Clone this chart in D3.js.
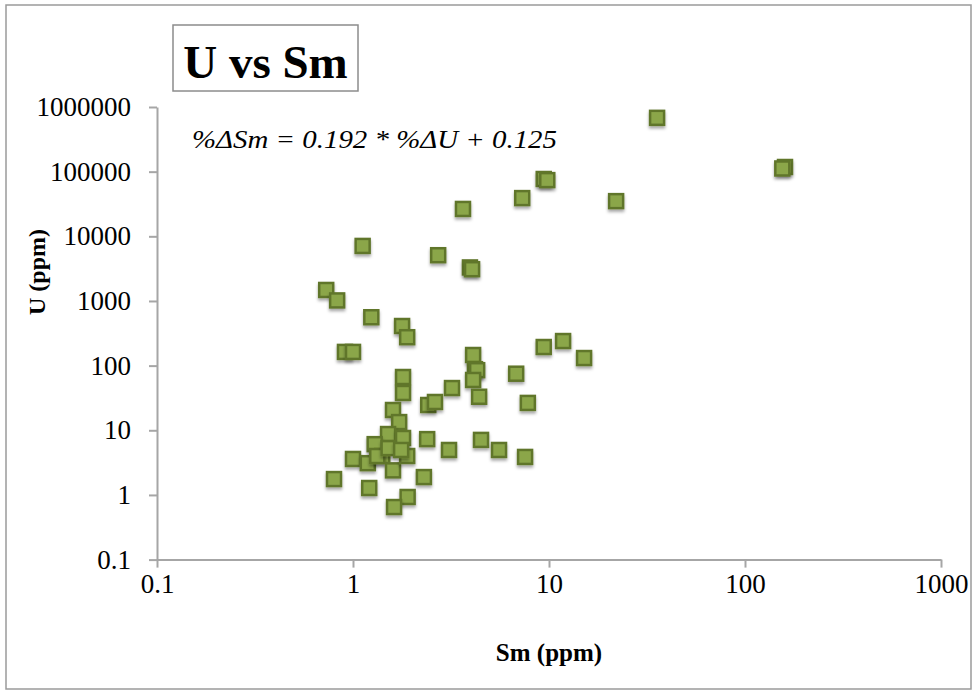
<!DOCTYPE html>
<html>
<head>
<meta charset="utf-8">
<script src="https://cdn.jsdelivr.net/npm/d3@7/dist/d3.min.js"></script>
<style>
  body { margin: 0; background: #fff; }
  svg { display: block; }
</style>
</head>
<body>
<div id="vis"></div>
<script>
// values (Sm ppm, U ppm)
var smValues = [35.6, 160, 155, 9.4, 9.8, 7.3, 22, 3.64, 1.12, 2.72, 3.95, 4.05,
  0.73, 0.83, 1.24, 1.78, 1.89, 0.91, 1.0, 9.4, 11.8, 15.1, 4.1, 4.19, 4.3,
  4.1, 4.4, 6.8, 7.8, 1.8, 1.8, 3.2, 2.42, 2.62, 1.6, 1.72, 1.51, 1.8, 1.29,
  1.0, 1.19, 1.41, 1.33, 1.6, 1.89, 2.39, 3.09, 4.5, 5.56, 7.55, 2.3, 0.8,
  1.21, 1.9, 1.62, 1.52, 1.76];
var uValues = [680000, 118000, 112000, 77000, 74000, 39000, 35000, 26500, 7100,
  5100, 3300, 3100, 1480, 1020, 560, 410, 275, 163, 163, 194, 240, 131, 146,
  88, 85, 60, 33, 75, 26.5, 66.7, 37.8, 45, 24.6, 27.4, 20.6, 13.4, 8.75, 7.6,
  6.1, 3.6, 3.1, 4.0, 4.0, 2.4, 4.0, 7.3, 4.96, 7.1, 4.96, 3.87, 1.89, 1.76,
  1.28, 0.93, 0.65, 5.3, 4.96];

var xTicks = [0.1, 1, 10, 100, 1000];
var xTickLabels = ['0.1', '1', '10', '100', '1000'];
var yTicks = [0.1, 1, 10, 100, 1000, 10000, 100000, 1000000];
var yTickLabels = ['0.1', '1', '10', '100', '1000', '10000', '100000', '1000000'];

var chartTitle = 'U vs Sm';
var equation = '%\u0394Sm = 0.192 * %\u0394U + 0.125';
var xTitle = 'Sm (ppm)';
var yTitle = 'U (ppm)';

var width = 979, height = 693;
var plotLeft = 157, plotRight = 941, plotTop = 107, plotBottom = 559.6;
var serif = '"Liberation Serif", "Times New Roman", serif';

var svg = d3.select('#vis').append('svg')
  .attr('width', width)
  .attr('height', height);

// shadow under the markers
var defs = svg.append('defs');
defs.append('filter')
  .attr('id', 'shadow')
  .attr('x', '-50%').attr('y', '-50%')
  .attr('width', '200%').attr('height', '200%')
  .append('feDropShadow')
  .attr('dx', 0).attr('dy', 2.5)
  .attr('stdDeviation', 1.5)
  .attr('flood-color', '#000')
  .attr('flood-opacity', 0.35);

// outer chart border
svg.append('rect')
  .attr('x', 6).attr('y', 5)
  .attr('width', 965).attr('height', 684)
  .attr('fill', '#fff')
  .attr('stroke', '#9a9a9a')
  .attr('stroke-width', 1.5);

var x = d3.scaleLog().domain([0.1, 1000]).range([plotLeft, plotRight]);
var y = d3.scaleLog().domain([0.1, 1000000]).range([plotBottom, plotTop]);

var xAxis = d3.axisBottom(x)
  .tickValues(xTicks)
  .tickFormat(function(d, i) { return xTickLabels[i]; })
  .tickSize(8)
  .tickSizeOuter(0)
  .tickPadding(6);

var yAxis = d3.axisLeft(y)
  .tickValues(yTicks)
  .tickFormat(function(d, i) { return yTickLabels[i]; })
  .tickSize(8)
  .tickSizeOuter(0)
  .tickPadding(18);

var gx = svg.append('g')
  .attr('transform', 'translate(0,' + plotBottom + ')')
  .call(xAxis);
var gy = svg.append('g')
  .attr('transform', 'translate(' + plotLeft + ',0)')
  .call(yAxis);

[gx, gy].forEach(function(g) {
  g.attr('font-size', null).attr('font-family', null);
  g.selectAll('path, line')
    .attr('stroke', '#a6a6a6')
    .attr('stroke-width', 2);
  g.selectAll('text')
    .attr('fill', '#000')
    .style('font-family', serif)
    .style('font-size', '27px');
});

// markers
var points = smValues.map(function(d, i) { return {sm: d, u: uValues[i]}; });
var size = 14;

svg.append('g')
  .selectAll('rect')
  .data(points)
  .enter()
  .append('rect')
  .attr('x', function(d) { return x(d.sm) - size / 2; })
  .attr('y', function(d) { return y(d.u) - size / 2; })
  .attr('width', size)
  .attr('height', size)
  .attr('fill', '#8ba64a')
  .attr('stroke', '#61762c')
  .attr('stroke-width', 2.5)
  .attr('filter', 'url(#shadow)');

// title box
svg.append('rect')
  .attr('x', 173).attr('y', 25)
  .attr('width', 185).attr('height', 66)
  .attr('fill', '#fff')
  .attr('stroke', '#8c8c8c')
  .attr('stroke-width', 1.5);

svg.append('text')
  .attr('x', 265.5).attr('y', 78)
  .attr('text-anchor', 'middle')
  .style('font-family', serif)
  .style('font-weight', 'bold')
  .style('font-size', '47px')
  .text(chartTitle);

// regression text
svg.append('text')
  .attr('x', 192).attr('y', 148)
  .attr('textLength', 365)
  .attr('lengthAdjust', 'spacingAndGlyphs')
  .style('font-family', serif)
  .style('font-style', 'italic')
  .style('font-size', '25px')
  .text(equation);

// axis titles
svg.append('text')
  .attr('x', (plotLeft + plotRight) / 2).attr('y', 661)
  .attr('text-anchor', 'middle')
  .style('font-family', serif)
  .style('font-weight', 'bold')
  .style('font-size', '25px')
  .text(xTitle);

svg.append('text')
  .attr('transform', 'translate(45,' + 272 + ') rotate(-90)')
  .attr('text-anchor', 'middle')
  .style('font-family', serif)
  .style('font-weight', 'bold')
  .style('font-size', '24px')
  .text(yTitle);
</script>
</body>
</html>
